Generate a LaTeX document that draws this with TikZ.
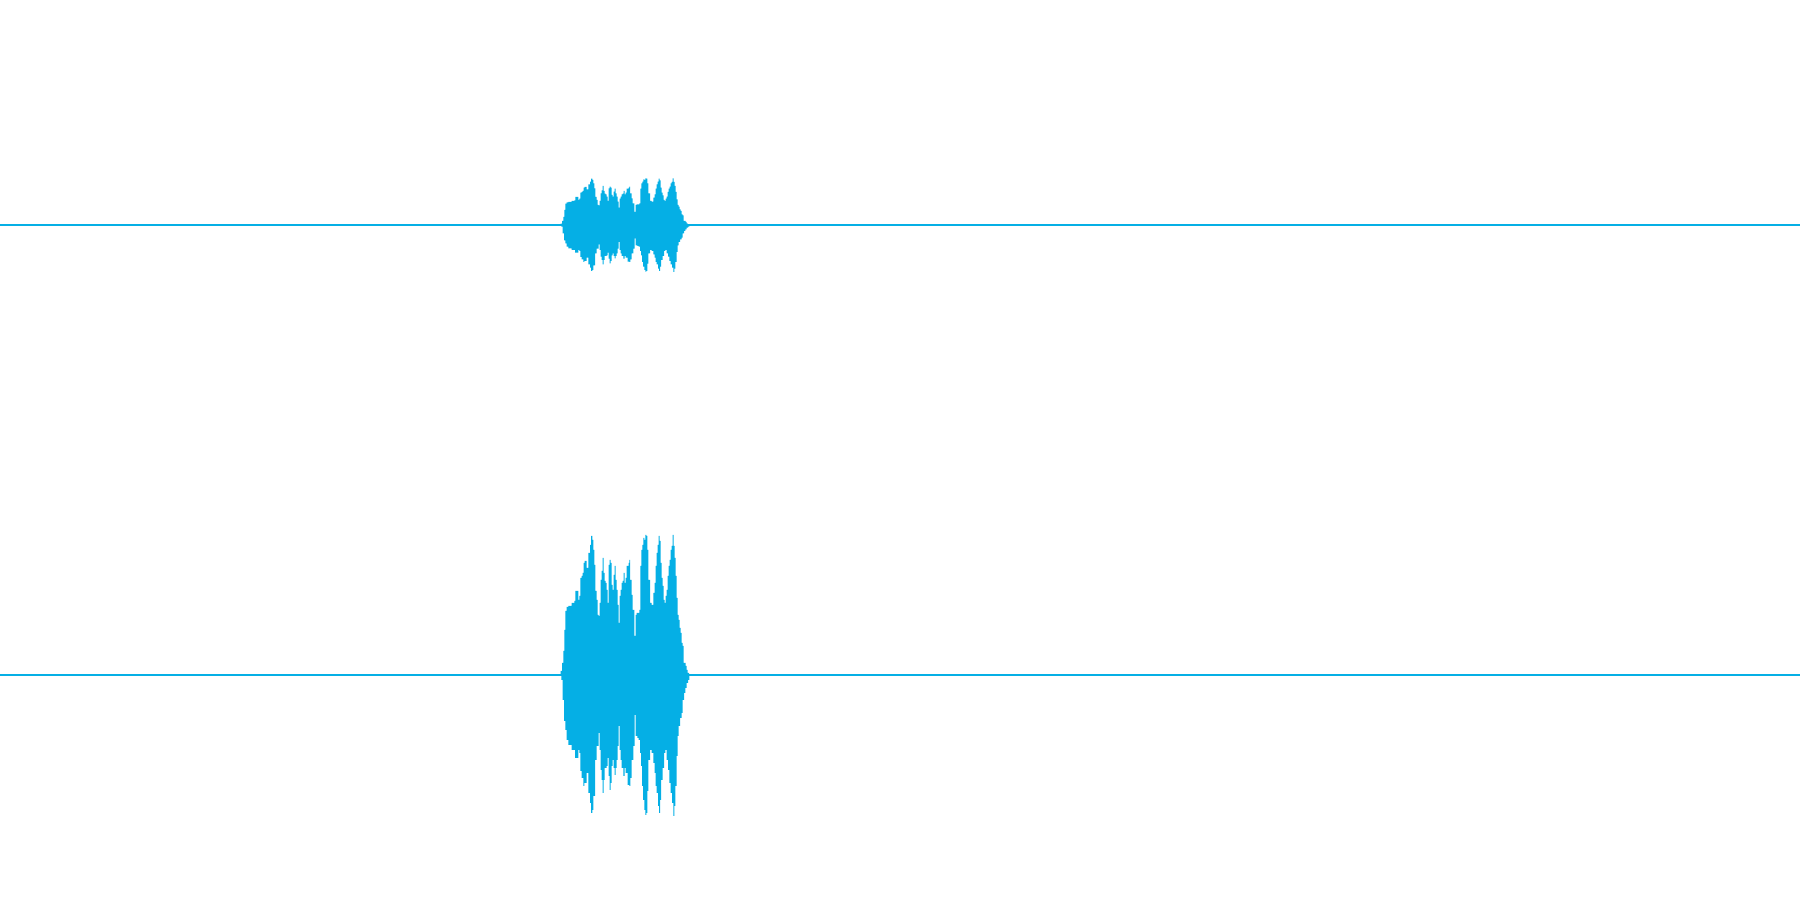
\documentclass[tikz,border=0pt]{standalone}
\usepackage{tikz}
\usepackage{xcolor}
\usetikzlibrary{calc}

\definecolor{wavecyan}{HTML}{05AFE5}

% envelope of the recorded signal: x in px / amplitude in px
\newcommand{\wavetop}{560.7/4, 562/12, 563.3/24, 564.3/45, 565.3/64, 566.7/68, 568.3/69, 571.7/72, 574.3/74, 575.3/84, 577.3/84, 578.3/75, 579.3/79, 580.3/97, 581.7/99, 582.7/102, 583.7/112, 584.7/114, 586.7/107, 588.3/122, 590/130, 591/139, 592.3/135, 593.3/125, 594.3/110, 595.3/84, 596.7/75, 597.7/60, 598.7/59, 599.7/72, 600.7/95, 601.7/104, 602.7/117, 603.7/102, 604.7/94, 605.7/92, 606.7/85, 607.7/72, 608.7/110, 609.7/115, 610.7/112, 611.7/90, 612.7/85, 613.7/100, 614.7/109, 615.7/95, 616.7/85, 617.7/70, 618.7/52, 619.7/79, 620.7/85, 621.7/92, 622.7/94, 623.7/102, 624.7/92, 625.7/97, 626.7/109, 628.7/112, 629.3/115, 630/95, 631.7/80, 632.7/65, 634.3/39, 635.7/60, 636.7/62, 638.3/62, 639.3/65, 640.3/109, 641.3/125, 642.3/130, 643.3/137, 644.3/135, 645.3/140, 646.3/139, 647.3/125, 648.3/95, 650/72, 651.7/70, 653.3/82, 654.7/92, 655.7/109, 656.7/122, 657.7/130, 658.7/139, 659.7/134, 660.7/112, 661.7/97, 662.7/89, 663.7/75, 664.7/72, 665.7/79, 666.7/85, 667.7/99, 668.7/109, 669.7/115, 670.7/125, 671.7/129, 672.7/140, 673.7/129, 674.7/117, 675.7/99, 676.7/77, 677.7/60, 678.7/55, 679.7/47, 680.7/42, 681.7/32, 682.7/29, 683.7/12, 684.7/12, 685.7/9, 686.7/5, 687.7/2}
\newcommand{\wavebot}{560/1, 561.3/5, 562.7/25, 564/46, 565.3/55, 566.7/65, 568.3/70, 571.7/75, 575/83, 577.3/83, 578.3/75, 579.3/78, 580.3/96, 581.7/103, 583.3/111, 584.3/108, 586.7/98, 588.3/118, 590/128, 591/138, 592.3/135, 593.3/121, 595/85, 596.7/71, 598.7/58, 599.7/75, 600.7/95, 601.7/105, 602.7/118, 603.7/105, 604.7/93, 606.7/91, 607.7/83, 608.7/101, 609.7/115, 610.7/108, 611.7/91, 612.7/85, 613.7/93, 614.7/100, 615.7/93, 616.7/85, 617.7/71, 618.7/51, 619.7/75, 620.7/85, 621.7/93, 623.3/101, 624.7/93, 625.7/98, 627.7/110, 629.3/111, 630.3/103, 631.7/85, 633.3/71, 634.7/40, 635.7/61, 637.3/63, 638.7/65, 640/78, 641/91, 642/111, 643/125, 644.3/135, 645.3/140, 646.3/138, 647.3/116, 648.3/85, 650/75, 651.7/78, 653.3/88, 654.7/98, 655.7/111, 656.7/118, 658/131, 659/138, 660/125, 661/105, 662.7/93, 664/78, 665.3/75, 666.7/85, 668/95, 669.3/108, 670.7/118, 672/128, 673.3/141, 674.3/131, 675.3/111, 676.7/81, 677.7/61, 678.7/51, 680/43, 681.7/38, 682.7/25, 684/18, 685.3/13, 686.7/8, 688/5, 689.3/1}

\begin{document}
\begin{tikzpicture}[x=0.01cm, y=0.01cm,
    baseline/.style={wavecyan, line width=0.3pt},
    wave/.style={fill=wavecyan}]
\useasboundingbox (0,0) rectangle (1800,900);

% Zero lines
\draw[baseline] (0,675) -- (1800,675);
\draw[baseline] (0,225) -- (1800,225);

% Quiet channel (one third of the amplitude)
\begin{scope}[shift={(0,675)}, yscale=1/3]
\fill[wave] (560,0) \foreach \x/\a in \wavetop {-| (\x,\a)} -| (689,0) -- cycle;
\fill[wave] (560,0) \foreach \x/\a in \wavebot {-| (\x,-\a)} -| (689.5,0) -- cycle;
\end{scope}

% Loud channel
\begin{scope}[shift={(0,225)}]
\fill[wave] (560,0) \foreach \x/\a in \wavetop {-| (\x,\a)} -| (689,0) -- cycle;
\fill[wave] (560,0) \foreach \x/\a in \wavebot {-| (\x,-\a)} -| (689.5,0) -- cycle;
\end{scope}
\end{tikzpicture}
\end{document}
